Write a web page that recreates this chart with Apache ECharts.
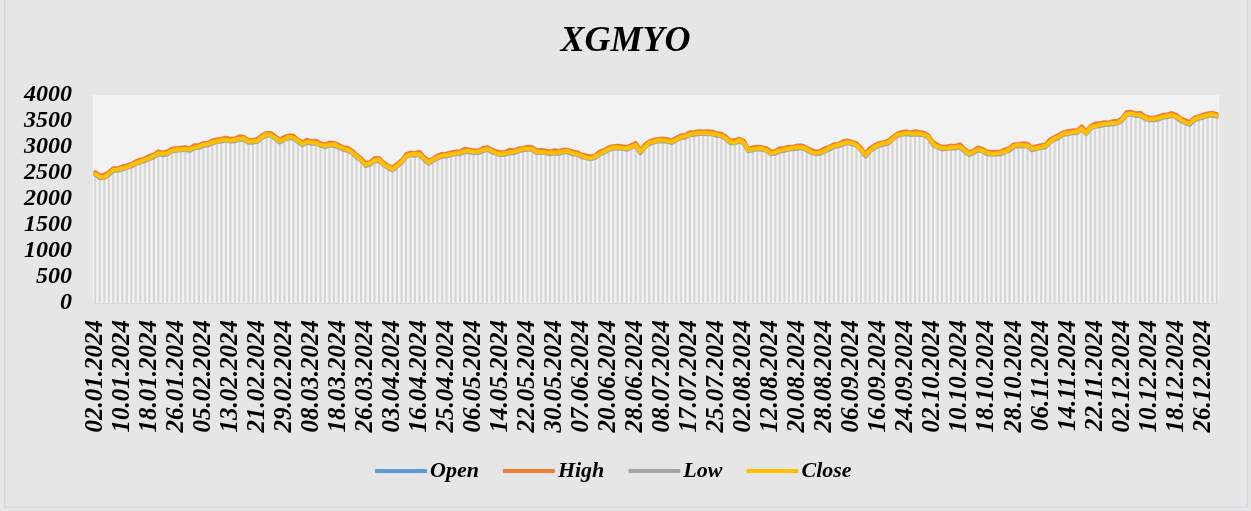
<!DOCTYPE html>
<html>
<head>
<meta charset="utf-8">
<script src="https://cdn.jsdelivr.net/npm/echarts@6/dist/echarts.min.js"></script>
<style>
html,body{margin:0;padding:0;background:#e6e6e6;}
#c{width:1251px;height:511px;}
</style>
</head>
<body>
<div id="c"></div>
<script>
const dates = [
"02.01.2024","03.01.2024","04.01.2024","05.01.2024","08.01.2024","09.01.2024","10.01.2024","11.01.2024","12.01.2024","15.01.2024","16.01.2024","17.01.2024","18.01.2024","19.01.2024","22.01.2024","23.01.2024","24.01.2024","25.01.2024","26.01.2024","29.01.2024","30.01.2024","31.01.2024",
"01.02.2024","02.02.2024","05.02.2024","06.02.2024","07.02.2024","08.02.2024","09.02.2024","12.02.2024","13.02.2024","14.02.2024","15.02.2024","16.02.2024","19.02.2024","20.02.2024","21.02.2024","22.02.2024","23.02.2024","26.02.2024","27.02.2024","28.02.2024","29.02.2024",
"01.03.2024","04.03.2024","05.03.2024","06.03.2024","07.03.2024","08.03.2024","11.03.2024","12.03.2024","13.03.2024","14.03.2024","15.03.2024","18.03.2024","19.03.2024","20.03.2024","21.03.2024","22.03.2024","25.03.2024","26.03.2024","27.03.2024","28.03.2024","29.03.2024",
"01.04.2024","02.04.2024","03.04.2024","04.04.2024","05.04.2024","08.04.2024","09.04.2024","15.04.2024","16.04.2024","17.04.2024","18.04.2024","19.04.2024","22.04.2024","24.04.2024","25.04.2024","26.04.2024","29.04.2024","30.04.2024",
"02.05.2024","03.05.2024","06.05.2024","07.05.2024","08.05.2024","09.05.2024","10.05.2024","13.05.2024","14.05.2024","15.05.2024","16.05.2024","17.05.2024","20.05.2024","21.05.2024","22.05.2024","23.05.2024","24.05.2024","27.05.2024","28.05.2024","29.05.2024","30.05.2024","31.05.2024",
"03.06.2024","04.06.2024","05.06.2024","06.06.2024","07.06.2024","10.06.2024","11.06.2024","12.06.2024","13.06.2024","14.06.2024","20.06.2024","21.06.2024","24.06.2024","25.06.2024","26.06.2024","27.06.2024","28.06.2024",
"01.07.2024","02.07.2024","03.07.2024","04.07.2024","05.07.2024","08.07.2024","09.07.2024","10.07.2024","11.07.2024","12.07.2024","16.07.2024","17.07.2024","18.07.2024","19.07.2024","22.07.2024","23.07.2024","24.07.2024","25.07.2024","26.07.2024","29.07.2024","30.07.2024","31.07.2024",
"01.08.2024","02.08.2024","05.08.2024","06.08.2024","07.08.2024","08.08.2024","09.08.2024","12.08.2024","13.08.2024","14.08.2024","15.08.2024","16.08.2024","19.08.2024","20.08.2024","21.08.2024","22.08.2024","23.08.2024","26.08.2024","27.08.2024","28.08.2024","29.08.2024",
"02.09.2024","03.09.2024","04.09.2024","05.09.2024","06.09.2024","09.09.2024","10.09.2024","11.09.2024","12.09.2024","13.09.2024","16.09.2024","17.09.2024","18.09.2024","19.09.2024","20.09.2024","23.09.2024","24.09.2024","25.09.2024","26.09.2024","27.09.2024","30.09.2024",
"01.10.2024","02.10.2024","03.10.2024","04.10.2024","07.10.2024","08.10.2024","09.10.2024","10.10.2024","11.10.2024","14.10.2024","15.10.2024","16.10.2024","17.10.2024","18.10.2024","21.10.2024","22.10.2024","23.10.2024","24.10.2024","25.10.2024","28.10.2024","30.10.2024","31.10.2024",
"01.11.2024","04.11.2024","05.11.2024","06.11.2024","07.11.2024","08.11.2024","11.11.2024","12.11.2024","13.11.2024","14.11.2024","15.11.2024","18.11.2024","19.11.2024","20.11.2024","21.11.2024","22.11.2024","25.11.2024","26.11.2024","27.11.2024","28.11.2024","29.11.2024",
"02.12.2024","03.12.2024","04.12.2024","05.12.2024","06.12.2024","09.12.2024","10.12.2024","11.12.2024","12.12.2024","13.12.2024","16.12.2024","17.12.2024","18.12.2024","19.12.2024","20.12.2024","23.12.2024","24.12.2024","25.12.2024","26.12.2024","27.12.2024","30.12.2024","31.12.2024"
];

const openValues = [
2488,2424,2432,2486,2563,2560,2593,2619,2643,2688,
2728,2754,2794,2826,2883,2860,2883,2939,2948,2952,
2968,2949,3002,3006,3043,3050,3093,3119,3128,3142,
3129,3134,3172,3163,3108,3100,3124,3199,3237,3232,
3178,3109,3162,3195,3185,3110,3061,3112,3083,3085,
3048,3020,3052,3047,3015,2964,2953,2909,2820,2752,
2662,2680,2752,2759,2675,2610,2574,2649,2711,2822,
2867,2859,2871,2778,2704,2750,2804,2839,2839,2862,
2886,2884,2932,2925,2905,2900,2943,2971,2923,2882,
2873,2874,2912,2906,2940,2952,2973,2971,2903,2907,
2903,2884,2903,2896,2920,2913,2883,2874,2823,2802,
2790,2814,2877,2916,2965,2984,2993,2989,2967,3002,
3046,2904,3012,3079,3108,3125,3133,3124,3096,3142,
3194,3204,3252,3259,3275,3266,3273,3269,3237,3222,
3175,3094,3095,3131,3088,2932,2963,2979,2967,2944,
2886,2894,2942,2951,2975,2975,2997,3003,2953,2902,
2886,2894,2941,2976,3025,3028,3073,3099,3073,3040,
2958,2840,2942,3002,3045,3060,3086,3159,3224,3252,
3271,3257,3267,3259,3245,3189,3063,3015,2973,2976,
2998,2994,3018,2936,2870,2900,2958,2939,2883,2867,
2883,2884,2922,2956,3025,3028,3038,3035,2955,2982,
3008,3020,3112,3163,3205,3253,3273,3294,3288,3361,
3271,3374,3416,3426,3447,3440,3463,3477,3525,3637,
3648,3619,3627,3566,3537,3530,3554,3589,3593,3617,
3588,3524,3482,3451,3535,3560,3593,3619,3628,3598
];

const highValues = [
2516,2452,2466,2515,2593,2591,2625,2645,2674,2723,
2756,2782,2828,2855,2913,2891,2915,2965,2979,2987,
2996,2977,3036,3035,3073,3081,3125,3145,3159,3177,
3157,3162,3206,3192,3138,3131,3156,3225,3268,3267,
3206,3137,3196,3224,3215,3141,3093,3138,3114,3120,
3076,3048,3086,3076,3045,2995,2985,2935,2851,2787,
2690,2708,2786,2788,2705,2641,2606,2675,2742,2857,
2895,2887,2905,2807,2734,2781,2836,2865,2870,2897,
2914,2912,2966,2954,2935,2931,2975,2997,2954,2917,
2901,2902,2946,2935,2970,2983,3005,2997,2934,2942,
2931,2912,2937,2925,2950,2944,2915,2900,2854,2837,
2818,2842,2911,2945,2995,3015,3025,3015,2998,3037,
3074,2932,3046,3108,3138,3156,3165,3150,3127,3177,
3222,3232,3286,3288,3305,3297,3305,3295,3268,3257,
3203,3122,3129,3160,3118,2963,2995,3005,2998,2979,
2914,2922,2976,2980,3005,3006,3029,3029,2984,2937,
2914,2922,2975,3005,3055,3059,3105,3125,3104,3075,
2986,2868,2976,3031,3075,3091,3118,3185,3255,3287,
3299,3285,3301,3288,3275,3220,3095,3041,3004,3011,
3026,3022,3052,2965,2900,2931,2990,2965,2914,2902,
2911,2912,2956,2985,3055,3059,3070,3061,2986,3017,
3036,3048,3146,3192,3235,3284,3305,3320,3319,3396,
3299,3402,3450,3455,3477,3471,3495,3503,3556,3672,
3676,3647,3661,3595,3567,3561,3586,3615,3624,3652,
3616,3552,3516,3480,3565,3591,3625,3645,3659,3633
];

const lowValues = [
2462,2400,2405,2460,2538,2543,2565,2594,2621,2672,
2702,2730,2767,2800,2858,2843,2855,2914,2926,2936,
2942,2925,2975,2980,3018,3033,3065,3094,3106,3126,
3103,3110,3145,3137,3083,3083,3096,3174,3215,3216,
3152,3085,3135,3169,3160,3093,3033,3087,3061,3069,
3022,2996,3025,3021,2990,2947,2925,2884,2798,2736,
2636,2656,2725,2733,2650,2593,2546,2624,2689,2806,
2841,2835,2844,2752,2679,2733,2776,2814,2817,2846,
2860,2860,2905,2899,2880,2883,2915,2946,2901,2866,
2847,2850,2885,2880,2915,2935,2945,2946,2881,2891,
2877,2860,2876,2870,2895,2896,2855,2849,2801,2786,
2764,2790,2850,2890,2940,2967,2965,2964,2945,2986,
3020,2880,2985,3053,3083,3108,3105,3099,3074,3126,
3168,3180,3225,3233,3250,3249,3245,3244,3215,3206,
3149,3070,3068,3105,3063,2915,2935,2954,2945,2928,
2860,2870,2915,2925,2950,2958,2969,2978,2931,2886,
2860,2870,2914,2950,3000,3011,3045,3074,3051,3024,
2932,2816,2915,2976,3020,3043,3058,3134,3202,3236,
3245,3233,3240,3233,3220,3172,3035,2990,2951,2960,
2972,2970,2991,2910,2845,2883,2930,2914,2861,2851,
2857,2860,2895,2930,3000,3011,3010,3010,2933,2966,
2982,2996,3085,3137,3180,3236,3245,3269,3266,3345,
3245,3350,3389,3400,3422,3423,3435,3452,3503,3621,
3622,3595,3600,3540,3512,3513,3526,3564,3571,3601,
3562,3500,3455,3425,3510,3543,3565,3594,3606,3582
];

const closeValues = [
2480,2430,2420,2490,2558,2570,2590,2610,2650,2686,
2720,2760,2782,2830,2878,2870,2880,2930,2955,2950,
2960,2955,2990,3010,3038,3060,3090,3110,3135,3140,
3121,3140,3160,3167,3103,3110,3121,3190,3244,3230,
3170,3115,3150,3199,3180,3120,3058,3103,3090,3083,
3040,3026,3040,3051,3010,2974,2950,2900,2827,2750,
2654,2686,2740,2763,2670,2620,2571,2640,2718,2820,
2859,2865,2859,2782,2699,2760,2801,2830,2846,2860,
2878,2890,2920,2929,2900,2910,2940,2962,2930,2880,
2865,2880,2900,2910,2935,2962,2970,2962,2910,2905,
2895,2890,2891,2900,2915,2923,2880,2865,2830,2800,
2782,2820,2865,2920,2960,2994,2990,2980,2974,3000,
3038,2910,3000,3083,3103,3135,3130,3115,3103,3140,
3186,3210,3240,3263,3270,3276,3270,3260,3244,3220,
3167,3100,3083,3135,3083,2942,2960,2970,2974,2942,
2878,2900,2930,2955,2970,2985,2994,2994,2960,2900,
2878,2900,2929,2980,3020,3038,3070,3090,3080,3038,
2950,2846,2930,3006,3040,3070,3083,3150,3231,3250,
3263,3263,3255,3263,3240,3199,3060,3006,2980,2974,
2990,3000,3006,2940,2865,2910,2955,2930,2890,2865,
2875,2890,2910,2960,3020,3038,3035,3026,2962,2980,
3000,3026,3100,3167,3200,3263,3270,3285,3295,3359,
3263,3380,3404,3430,3442,3450,3460,3468,3532,3635,
3640,3625,3615,3570,3532,3540,3551,3580,3600,3615,
3580,3530,3470,3455,3530,3570,3590,3610,3635,3596
];

const seriesNames = ["Open", "High", "Low", "Close"];
const seriesColors = ["#5b9bd5", "#ed7d31", "#a5a5a5", "#ffc000"];
const chartTitle = "XGMYO";

const FONT = "'Liberation Serif','Times New Roman',serif";
const chart = echarts.init(document.getElementById('c'), null, {renderer: 'canvas'});

function lineSeries(name, data, color) {
  return {
    name: name,
    type: 'line',
    data: data,
    symbol: 'none',
    smooth: false,
    z: 3,
    lineStyle: {color: color, width: 4, cap: 'round', join: 'round'},
    itemStyle: {color: color},
    emphasis: {disabled: true},
    animation: false
  };
}

chart.setOption({
  backgroundColor: '#e6e6e6',
  animation: false,
  title: {
    text: chartTitle,
    left: 'center',
    top: 19,
    textStyle: {fontFamily: FONT, fontSize: 36, fontWeight: 'bold', fontStyle: 'italic', color: '#000'}
  },
  grid: {
    left: 93, right: 32, top: 95, bottom: 208,
    show: true, backgroundColor: '#f2f2f2', borderWidth: 0
  },
  legend: {
    data: seriesNames,
    top: 455,
    left: 370,
    icon: 'roundRect',
    itemWidth: 52,
    itemHeight: 4,
    itemGap: 24,
    textStyle: {fontFamily: FONT, fontSize: 22, fontWeight: 'bold', fontStyle: 'italic', color: '#000', padding: [0, 0, 0, -2]}
  },
  xAxis: {
    type: 'category',
    data: dates,
    boundaryGap: true,
    axisLine: {show: true, lineStyle: {color: '#d9d9d9', width: 1}},
    axisTick: {show: false},
    splitLine: {show: false},
    axisLabel: {
      interval: 5,
      rotate: 90,
      margin: 17,
      fontFamily: FONT, fontSize: 25, fontWeight: 'bold', fontStyle: 'italic', color: '#000'
    }
  },
  yAxis: {
    type: 'value',
    min: 0, max: 4000, interval: 500,
    axisLine: {show: false},
    axisTick: {show: false},
    splitLine: {show: false},
    axisLabel: {
      margin: 21,
      formatter: function (v) { return String(v); },
      fontFamily: FONT, fontSize: 24, fontWeight: 'bold', fontStyle: 'italic', color: '#000'
    }
  },
  series: [
    {
      name: 'dropLines',
      type: 'bar',
      data: highValues,
      barWidth: 2,
      silent: true,
      z: 1,
      itemStyle: {color: '#d4d4d4'},
      emphasis: {disabled: true}
    },
    lineSeries(seriesNames[0], openValues, seriesColors[0]),
    lineSeries(seriesNames[1], highValues, seriesColors[1]),
    lineSeries(seriesNames[2], lowValues, seriesColors[2]),
    lineSeries(seriesNames[3], closeValues, seriesColors[3])
  ],
  graphic: [{
    type: 'rect',
    shape: {x: 4.5, y: -2, width: 1243, height: 509},
    style: {fill: 'none', stroke: '#d3d9e2', lineWidth: 1.5},
    silent: true,
    z: 100
  }]
});
</script>
</body>
</html>
